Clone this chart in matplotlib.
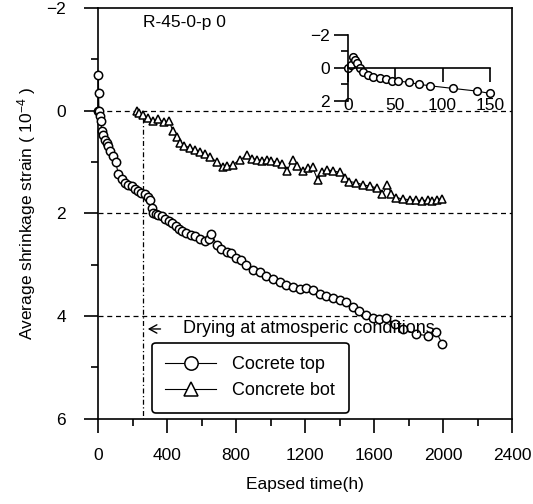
import matplotlib as mpl
import matplotlib.pyplot as plt
from matplotlib.ticker import MultipleLocator

plt.rcParams['font.family'] = ['Liberation Sans', 'DejaVu Sans']
plt.rcParams['mathtext.fontset'] = 'custom'
plt.rcParams['mathtext.rm'] = 'Liberation Sans'
plt.rcParams['mathtext.it'] = 'Liberation Sans'

# concrete top (circles)
t_top = [0, 2, 3, 5, 10, 17, 21, 30, 40, 50, 58, 70, 87, 102, 118, 140, 156, 175, 195, 215,
         233, 250, 272, 290, 301, 312, 320, 335, 350, 368, 390, 410, 426, 450, 470, 484, 510,
         540, 561, 590, 619, 640, 657, 690, 715, 745, 773, 800, 831, 860, 898, 937, 976, 1015,
         1053, 1091, 1130, 1168, 1205, 1245, 1284, 1320, 1360, 1400, 1438, 1475, 1515, 1553,
         1592, 1630, 1670, 1720, 1766, 1843, 1910, 1959, 1995]
s_top = [0, -0.7, -0.35, 0.0, 0.1, 0.2, 0.4, 0.48, 0.56, 0.62, 0.69, 0.78, 0.89, 1.0, 1.24,
         1.33, 1.4, 1.44, 1.47, 1.52, 1.57, 1.6, 1.63, 1.68, 1.73, 1.9, 1.99, 2.02, 2.03, 2.05,
         2.1, 2.15, 2.18, 2.24, 2.3, 2.34, 2.38, 2.42, 2.44, 2.5, 2.54, 2.5, 2.41, 2.62, 2.7,
         2.75, 2.78, 2.86, 2.9, 3.0, 3.1, 3.15, 3.22, 3.28, 3.33, 3.4, 3.44, 3.48, 3.46, 3.5,
         3.57, 3.6, 3.64, 3.68, 3.73, 3.82, 3.9, 3.98, 4.03, 4.05, 4.03, 4.15, 4.25, 4.35, 4.38,
         4.31, 4.54]

# concrete bottom (triangles)
t_bot = [224, 240, 261, 290, 318, 347, 380, 411, 435, 455, 474, 500, 532, 560, 590, 620, 648,
         690, 723, 750, 781, 820, 861, 890, 919, 950, 977, 1005, 1035, 1065, 1093, 1127, 1155,
         1186, 1215, 1243, 1272, 1300, 1324, 1360, 1400, 1430, 1457, 1495, 1533, 1575, 1614,
         1648, 1677, 1700, 1729, 1765, 1805, 1840, 1880, 1910, 1937, 1965, 1995]
s_bot = [0.0, 0.05, 0.08, 0.15, 0.2, 0.17, 0.22, 0.2, 0.4, 0.52, 0.63, 0.68, 0.72, 0.76, 0.8,
         0.85, 0.9, 1.0, 1.1, 1.08, 1.05, 0.96, 0.87, 0.93, 0.95, 0.97, 0.95, 0.98, 1.0, 1.03,
         1.18, 0.95, 1.08, 1.18, 1.12, 1.1, 1.34, 1.2, 1.15, 1.17, 1.2, 1.3, 1.38, 1.4, 1.44,
         1.47, 1.5, 1.63, 1.44, 1.62, 1.69, 1.72, 1.73, 1.74, 1.75, 1.74, 1.75, 1.73, 1.71]

# inset, first 150 h
t_ins = [0, 2.8, 5.3, 7, 9.5, 12.4, 16, 21, 26.5, 33.6, 40.6, 46, 53, 65, 75, 86.5, 111, 136, 150]
s_ins = [0, -0.16, -0.67, -0.47, -0.26, 0.04, 0.24, 0.44, 0.55, 0.6, 0.7, 0.8, 0.8, 0.89, 1.0,
         1.09, 1.25, 1.41, 1.55]

x_ticks = [0, 400, 800, 1200, 1600, 2000, 2400]
y_ticks = [-2, 0, 2, 4, 6]
t_dry = 260

fig = plt.figure(figsize=(5.33, 5.04), dpi=100)
ax = fig.add_axes([0.184, 0.169, 0.777, 0.815])

for yy in [0, 2, 4]:
    ax.axhline(yy, color='black', lw=0.9, ls=(0, (4, 3)), zorder=1)
ax.plot([t_dry, t_dry], [0.15, 6], color='black', lw=0.9, ls=(0, (4, 2, 1, 2)), zorder=1)

ax.plot(t_top, s_top, color='black', lw=0.8, marker='o', ms=6, mfc='white', mec='black',
        mew=1.1, label='Cocrete top', clip_on=False, zorder=3)
ax.plot(t_bot, s_bot, color='black', lw=0.8, marker='^', ms=6, mfc='white', mec='black',
        mew=1.1, label='Concrete bot', clip_on=False, zorder=3)

ax.set_xlim(0, 2400)
ax.set_ylim(6, -2)
ax.set_xticks(x_ticks)
ax.set_yticks(y_ticks)
ax.xaxis.set_minor_locator(MultipleLocator(200))
ax.yaxis.set_minor_locator(MultipleLocator(1))
ax.tick_params(which='major', direction='out', length=10, width=1.2, labelsize=12.5)
ax.tick_params(which='minor', direction='out', length=5, width=1.2)
ax.tick_params(axis='x', which='major', pad=11)
ax.tick_params(axis='y', which='major', pad=13)
for sp in ax.spines.values():
    sp.set_linewidth(1.2)

ax.set_xlabel('Eapsed time(h)', fontsize=12.5, labelpad=10)
ax.set_ylabel('Average shrinkage strain ( 10$^{-4}$ )', fontsize=12.5, labelpad=6)

ax.text(260, -1.72, 'R-45-0-p 0', fontsize=12.5, va='center', ha='left')
ax.annotate('', xy=(t_dry + 12, 4.25), xytext=(t_dry + 118, 4.25),
            arrowprops=dict(arrowstyle='->, head_length=0.55, head_width=0.3',
                            color='black', lw=1.0))
ax.text(t_dry + 232, 4.25, 'Drying at atmosperic conditions', fontsize=13,
        va='center', ha='left')

leg = ax.legend(loc='upper left', bbox_to_anchor=(0.13, 0.185), borderaxespad=0, fontsize=13,
                markerscale=1.6, handlelength=2.8, handletextpad=0.9, frameon=True,
                fancybox=True, edgecolor='black', framealpha=1, borderpad=0.75,
                labelspacing=0.5)
leg.get_frame().set_linewidth(1.2)

# inset
axi = fig.add_axes([0.653, 0.80, 0.266, 0.131])
axi.plot(t_ins, s_ins, color='black', lw=0.8, marker='o', ms=5.5, mfc='white', mec='black',
         mew=1.1, clip_on=False)
axi.set_xlim(0, 150)
axi.set_ylim(2, -2)
axi.set_xticks([0, 50, 100, 150])
axi.set_yticks([-2, 0, 2])
axi.yaxis.set_minor_locator(MultipleLocator(1))
axi.patch.set_alpha(0)
axi.spines['top'].set_visible(False)
axi.spines['right'].set_visible(False)
axi.spines['bottom'].set_position(('data', 0))
axi.spines['left'].set_linewidth(1.2)
axi.spines['bottom'].set_linewidth(1.2)
axi.tick_params(axis='y', which='major', direction='out', length=10, width=1.2, labelsize=12.5, pad=3)
axi.tick_params(axis='y', which='minor', direction='out', length=5, width=1.2)
axi.tick_params(axis='x', which='major', direction='out', length=10, width=1.2, labelsize=12.5, pad=12)

plt.savefig('out.png', format='png', dpi=100)
